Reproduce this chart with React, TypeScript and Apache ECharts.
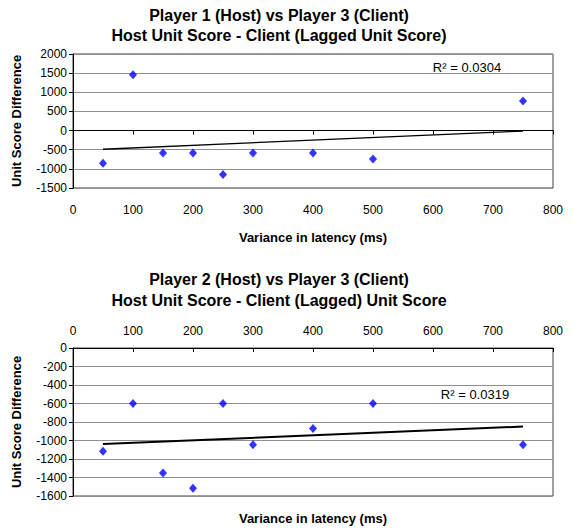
import React, { useEffect, useRef } from "react";
import * as echarts from "echarts";

// Chart 1: Player 1 (Host) vs Player 3 (Client)
const latency1 = [50, 100, 150, 200, 250, 300, 400, 500, 750];
const diff1 = [-855, 1460, -585, -585, -1150, -585, -585, -740, 770];
const r2Label1 = "R\u00b2 = 0.0304";

// Chart 2: Player 2 (Host) vs Player 3 (Client)
const latency2 = [50, 100, 150, 200, 250, 300, 400, 500, 750];
const diff2 = [-1115, -600, -1350, -1515, -600, -1045, -870, -600, -1045];
const r2Label2 = "R\u00b2 = 0.0319";

const title1 = ["Player 1 (Host) vs Player 3 (Client)", "Host Unit Score - Client (Lagged Unit Score)"];
const title2 = ["Player 2 (Host) vs Player 3 (Client)", "Host Unit Score - Client (Lagged) Unit Score"];
const xName = "Variance in latency (ms)";
const yName = "Unit Score Difference";

function trend(xs: number[], ys: number[]): number[][] {
  const n = xs.length;
  const mx = xs.reduce((a, b) => a + b, 0) / n;
  const my = ys.reduce((a, b) => a + b, 0) / n;
  let sxy = 0;
  let sxx = 0;
  for (let i = 0; i < n; i++) {
    sxy += (xs[i] - mx) * (ys[i] - my);
    sxx += (xs[i] - mx) * (xs[i] - mx);
  }
  const b = sxy / sxx;
  const a = my - b * mx;
  const x0 = Math.min(...xs);
  const x1 = Math.max(...xs);
  return [
    [x0, a + b * x0],
    [x1, a + b * x1],
  ];
}

const FONT = "'Liberation Sans', Arial, sans-serif";

export default function App() {
  const ref = useRef<HTMLDivElement>(null);
  useEffect(() => {
    document.body.style.margin = "0";
    const chart = echarts.init(ref.current!, null, { renderer: "svg" });
    const fmt = (v: number) => String(v);
    const labelStyle = { color: "#000", fontSize: 12, fontFamily: FONT, formatter: fmt };
    const gridLine = { show: true, lineStyle: { color: "#8f8f8f", width: 1 } };
    const boldText = (x: number, y: number, text: string, size: number) => ({
      type: "text",
      x,
      y,
      style: {
        text,
        fill: "#000",
        font: `bold ${size}px ${FONT}`,
        align: "center",
        verticalAlign: "middle",
      },
    });
    const plainText = (x: number, y: number, text: string) => ({
      type: "text",
      x,
      y,
      style: {
        text,
        fill: "#000",
        font: `13px ${FONT}`,
        align: "center",
        verticalAlign: "middle",
      },
    });
    const yNameStyle = { fontWeight: "bold", fontSize: 13, fontFamily: FONT, color: "#000" };
    chart.setOption({
      animation: false,
      backgroundColor: "#fff",
      grid: [
        { left: 73, top: 54, width: 480, height: 134, show: true, borderColor: "#404040", borderWidth: 1, backgroundColor: "transparent" },
        { left: 73, top: 348, width: 480, height: 148, show: true, borderColor: "#404040", borderWidth: 1, backgroundColor: "transparent" },
      ],
      xAxis: [
        {
          type: "value",
          gridIndex: 0,
          position: "bottom",
          min: 0,
          max: 800,
          interval: 100,
          axisLine: { show: false, onZero: false },
          axisTick: { show: false },
          splitLine: { show: false },
          axisLabel: { ...labelStyle, margin: 16 },
        },
        {
          type: "value",
          gridIndex: 0,
          position: "top",
          min: 0,
          max: 800,
          interval: 100,
          axisLine: { show: true, onZero: true, lineStyle: { color: "#000", width: 1 } },
          axisTick: { show: true, inside: true, length: 4, lineStyle: { color: "#000" } },
          splitLine: { show: false },
          axisLabel: { show: false },
        },
        {
          type: "value",
          gridIndex: 1,
          position: "top",
          min: 0,
          max: 800,
          interval: 100,
          axisLine: { show: true, onZero: false, lineStyle: { color: "#000", width: 1 } },
          axisTick: { show: true, inside: true, length: 4, lineStyle: { color: "#000" } },
          splitLine: { show: false },
          axisLabel: { ...labelStyle, margin: 11 },
        },
      ],
      yAxis: [
        {
          type: "value",
          gridIndex: 0,
          min: -1500,
          max: 2000,
          interval: 500,
          axisLine: { show: true, onZero: false, lineStyle: { color: "#000" } },
          axisTick: { show: true, length: 4, lineStyle: { color: "#000" } },
          splitLine: gridLine,
          axisLabel: { ...labelStyle, margin: 6 },
          name: yName,
          nameLocation: "middle",
          nameGap: 50,
          nameTextStyle: yNameStyle,
        },
        {
          type: "value",
          gridIndex: 1,
          min: -1600,
          max: 0,
          interval: 200,
          axisLine: { show: true, onZero: false, lineStyle: { color: "#000" } },
          axisTick: { show: true, length: 4, lineStyle: { color: "#000" } },
          splitLine: gridLine,
          axisLabel: { ...labelStyle, margin: 6 },
          name: yName,
          nameLocation: "middle",
          nameGap: 50,
          nameTextStyle: yNameStyle,
        },
      ],
      series: [
        {
          type: "scatter",
          xAxisIndex: 0,
          yAxisIndex: 0,
          symbol: "diamond",
          symbolSize: [8, 9],
          itemStyle: { color: "#0000ff" },
          data: latency1.map((x, i) => [x, diff1[i]]),
          z: 3,
        },
        {
          type: "line",
          xAxisIndex: 0,
          yAxisIndex: 0,
          symbol: "none",
          lineStyle: { color: "#000", width: 1.3 },
          data: trend(latency1, diff1),
          z: 2,
        },
        {
          type: "scatter",
          xAxisIndex: 2,
          yAxisIndex: 1,
          symbol: "diamond",
          symbolSize: [8, 9],
          itemStyle: { color: "#0000ff" },
          data: latency2.map((x, i) => [x, diff2[i]]),
          z: 3,
        },
        {
          type: "line",
          xAxisIndex: 2,
          yAxisIndex: 1,
          symbol: "none",
          lineStyle: { color: "#000", width: 2 },
          data: trend(latency2, diff2),
          z: 2,
        },
      ],
      graphic: [
        boldText(279, 15, title1[0], 16),
        boldText(279, 35, title1[1], 16),
        boldText(313, 237, xName, 13),
        boldText(279, 279, title2[0], 16),
        boldText(279, 300, title2[1], 16),
        boldText(313, 518, xName, 13),
        plainText(467, 67, r2Label1),
        plainText(475, 394, r2Label2),
      ],
    });
    return () => chart.dispose();
  }, []);
  return <div ref={ref} style={{ width: 574, height: 530, position: "absolute", left: 0, top: 0 }} />;
}
